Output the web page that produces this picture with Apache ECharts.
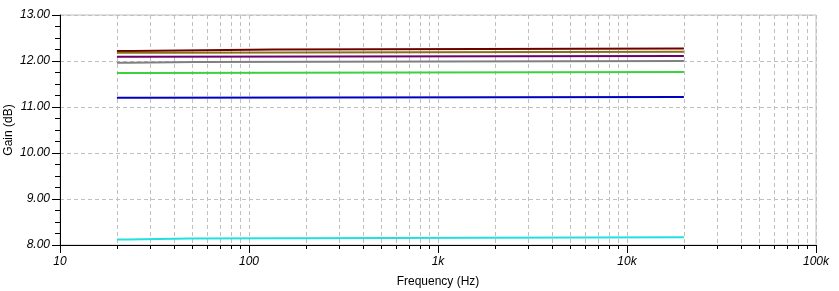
<!DOCTYPE html>
<html><head><meta charset="utf-8">
<script src="https://cdn.jsdelivr.net/npm/echarts@6/dist/echarts.min.js"></script>
<style>html,body{margin:0;padding:0;background:#fff}#c{width:839px;height:291px}</style>
</head><body><div id="c"></div>
<script>
// Step breakpoints (Hz) and gain (dB) for each trace
const darkRedF = [20, 24.3, 135, 20000];
const darkRedV = [12.22, 12.25, 12.27, 12.27];
const oliveF = [20, 34.8, 20000];
const oliveV = [12.18, 12.20, 12.20];
const purpleF = [20, 26.2, 20000];
const purpleV = [12.09, 12.11, 12.11];
const grayF = [20, 22.9, 52.4, 20000];
const grayV = [11.96, 11.98, 12.00, 12.00];
const greenF = [20, 28.2, 20000];
const greenV = [11.74, 11.76, 11.76];
const blueF = [20, 26.2, 20000];
const blueV = [11.20, 11.22, 11.22];
const cyanF = [20, 22.9, 48.7, 20000];
const cyanV = [8.12, 8.14, 8.17, 8.17];

const decades = [10, 100, 1000, 10000, 100000];
const xTickLabels = ['10', '100', '1k', '10k', '100k'];
const yTicks = [8, 9, 10, 11, 12, 13];

// build a stair path: hold each value until the next breakpoint
const stairs = (f, v) => {
  const out = [];
  for (let i = 0; i < f.length; i++) {
    if (i > 0) out.push([f[i], v[i - 1]]);
    out.push([f[i], v[i]]);
  }
  return out;
};
const traces = [
  [darkRedF, darkRedV, '#6e0000'],
  [oliveF, oliveV, '#857214'],
  [purpleF, purpleV, '#6e006e'],
  [grayF, grayV, '#808080'],
  [greenF, greenV, '#3cd23c'],
  [blueF, blueV, '#0000c0'],
  [cyanF, cyanV, '#22e0e0']
];

// minor frequencies 20..90 in each decade
const minorF = [];
for (let d = 0; d < 4; d++) for (let k = 2; k <= 9; k++) minorF.push(decades[d] * k);

const chart = echarts.init(document.getElementById('c'), null, {renderer: 'canvas'});
const series = traces.map(t => ({
  type: 'line', data: stairs(t[0], t[1]), symbol: 'none', smooth: false,
  lineStyle: {color: t[2], width: 2}, animation: false, z: 5
}));
series.push({
  type: 'custom', data: minorF.map(f => [f, 8]), silent: true, animation: false, z: 1,
  renderItem: function (params, api) {
    const f = api.value(0);
    const top = api.coord([f, 13]);
    const bot = api.coord([f, 8]);
    const x = Math.round(bot[0]) + 0.5;
    return {
      type: 'group', children: [
        {type: 'line', shape: {x1: x, y1: top[1], x2: x, y2: bot[1]},
          style: {stroke: '#c0c0c0', lineWidth: 1, lineDash: [4, 3]}},
        {type: 'line', shape: {x1: x, y1: bot[1], x2: x, y2: bot[1] + 4},
          style: {stroke: '#000', lineWidth: 1}}
      ]
    };
  }
});

chart.setOption({
  animation: false,
  backgroundColor: '#fff',
  grid: {left: 60, right: 23, top: 15, bottom: 46, show: true, borderColor: '#c0c0c0', borderWidth: 1,
    containLabel: false, outerBoundsMode: 'none'},
  xAxis: {
    type: 'log', logBase: 10, min: 10, max: 100000,
    name: 'Frequency (Hz)', nameLocation: 'middle', nameGap: 31, nameMoveOverlap: false,
    nameTextStyle: {fontFamily: 'Liberation Sans', fontSize: 12, color: '#000'},
    axisLine: {show: true, lineStyle: {color: '#000', width: 1}},
    axisTick: {show: true, length: 8, lineStyle: {color: '#000'}},
    axisLabel: {fontFamily: 'Liberation Sans', fontStyle: 'italic', fontSize: 12, color: '#000', margin: 11,
      formatter: v => { const i = decades.indexOf(Math.round(v)); return i >= 0 ? xTickLabels[i] : ''; }},
    splitLine: {show: true, lineStyle: {color: '#c0c0c0', type: [4, 3]}},
    minorTick: {show: false}
  },
  yAxis: {
    type: 'value', min: 8, max: 13, interval: 1,
    name: 'Gain (dB)', nameLocation: 'middle', nameGap: 45, nameRotate: 90, nameMoveOverlap: false,
    nameTextStyle: {fontFamily: 'Liberation Sans', fontSize: 12, color: '#000'},
    axisLine: {show: true, lineStyle: {color: '#000', width: 1}},
    axisTick: {show: true, length: 8, lineStyle: {color: '#000'}},
    minorTick: {show: true, splitNumber: 4, length: 5, lineStyle: {color: '#000'}},
    axisLabel: {fontFamily: 'Liberation Sans', fontStyle: 'italic', fontSize: 12, color: '#000', margin: 10,
      formatter: v => yTicks.includes(v) ? v.toFixed(2) : ''},
    splitLine: {show: true, lineStyle: {color: '#c0c0c0', type: [4, 3]}}
  },
  series: series
});
</script></body></html>
